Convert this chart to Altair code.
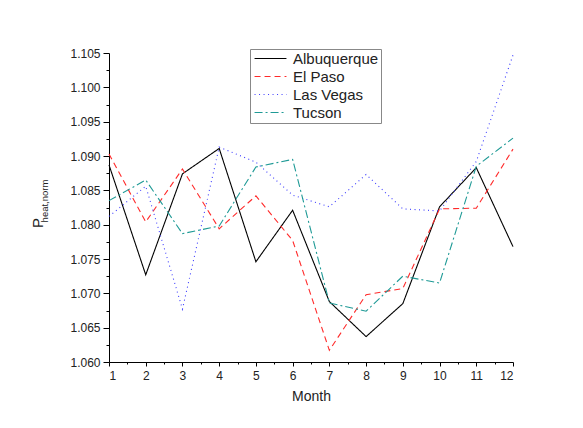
import altair as alt
import pandas as pd

months = list(range(1, 13))
cities = ["Albuquerque", "El Paso", "Las Vegas", "Tucson"]
albuquerque = [1.0887, 1.0727, 1.0874, 1.0911, 1.0746, 1.0821, 1.0688, 1.0637, 1.0685, 1.0826, 1.0883, 1.0768]
el_paso = [1.0903, 1.0804, 1.0881, 1.0794, 1.0842, 1.0777, 1.0617, 1.0698, 1.0707, 1.0823, 1.0824, 1.0910]
las_vegas = [1.0812, 1.0856, 1.0677, 1.0913, 1.0891, 1.0843, 1.0826, 1.0873, 1.0823, 1.0820, 1.0892, 1.1047]
tucson = [1.0835, 1.0865, 1.0787, 1.0798, 1.0884, 1.0895, 1.0686, 1.0674, 1.0725, 1.0715, 1.0885, 1.0926]

colors = ["#000000", "#ff2a2a", "#3b3bff", "#1f9a96"]
dashes = [[1, 0], [6, 4], [1, 3.5], [8, 3, 2, 3]]

series = [albuquerque, el_paso, las_vegas, tucson]
rows = []
for c, vals in zip(cities, series):
    for m, v in zip(months, vals):
        rows.append({"Month": m, "City": c, "P": v})
df = pd.DataFrame(rows)

y_major = [round(1.060 + 0.005 * i, 3) for i in range(10)]
y_minor = [round(1.0625 + 0.005 * i, 4) for i in range(9)]
x_minor = [m + 0.5 for m in months[:-1]]

FONT = "Liberation Sans"

xscale = alt.Scale(domain=[1, 12], nice=False)
yscale = alt.Scale(domain=[1.060, 1.105], nice=False, zero=False)

legend_opts = dict(title=None, orient="none", legendX=141, legendY=-4,
                   symbolType="M-2.9,0H2.9", symbolSize=121,
                   symbolStrokeWidth=1.1, symbolOffset=11, labelFontSize=15,
                   strokeColor="#888888", fillColor="white",
                   padding=2, rowPadding=2, labelOffset=15)

lines = alt.Chart(df).mark_line(strokeWidth=1.1).encode(
    x=alt.X("Month:Q", scale=xscale,
            axis=alt.Axis(values=months, title="Month", tickSize=4, labelPadding=4,
                          titlePadding=8, titleFontSize=14, labelFontSize=12,
                          titleFontWeight="normal", grid=False)),
    y=alt.Y("P:Q", scale=yscale,
            axis=alt.Axis(values=y_major, format=".3f", title=None, tickSize=6,
                          labelPadding=3, labelFontSize=12, grid=False)),
    color=alt.Color("City:N", scale=alt.Scale(domain=cities, range=colors),
                    legend=alt.Legend(**legend_opts)),
    strokeDash=alt.StrokeDash("City:N", scale=alt.Scale(domain=cities, range=dashes),
                              legend=alt.Legend(**legend_opts)),
)

minor = alt.Chart(df).mark_line(opacity=0).encode(
    x=alt.X("Month:Q", scale=xscale,
            axis=alt.Axis(values=x_minor, labels=False, title=None, tickSize=2,
                          domain=False, grid=False, orient="bottom")),
    y=alt.Y("P:Q", scale=yscale,
            axis=alt.Axis(values=y_minor, labels=False, title=None, tickSize=3,
                          domain=False, grid=False, orient="left")),
    detail="City:N",
)

title_p = alt.Chart(pd.DataFrame({"t": ["P"]})).mark_text(
    angle=270, fontSize=15, font=FONT, color="#222222", align="center", baseline="middle"
).encode(text="t:N", x=alt.value(-71), y=alt.value(170))

title_sub = alt.Chart(pd.DataFrame({"t": ["heat,norm"]})).mark_text(
    angle=270, fontSize=9.5, font=FONT, color="#222222", align="center", baseline="middle"
).encode(text="t:N", x=alt.value(-64), y=alt.value(148))

chart = alt.layer(lines, minor, title_p, title_sub).resolve_axis(
    x="independent", y="independent"
).properties(
    width=404, height=309,
    autosize=alt.AutoSizeParams(type="none"),
    padding={"left": 101, "top": 45, "right": 62, "bottom": 66},
    background="white",
).configure_view(stroke=None).configure_axis(
    domainColor="black", tickColor="black", labelColor="#222222", titleColor="#222222",
    labelFont=FONT, titleFont=FONT, domainWidth=1, tickWidth=1
).configure_legend(labelFont=FONT, labelColor="#222222")

chart.save("out.html", embed_options={"renderer": "svg", "actions": False})
